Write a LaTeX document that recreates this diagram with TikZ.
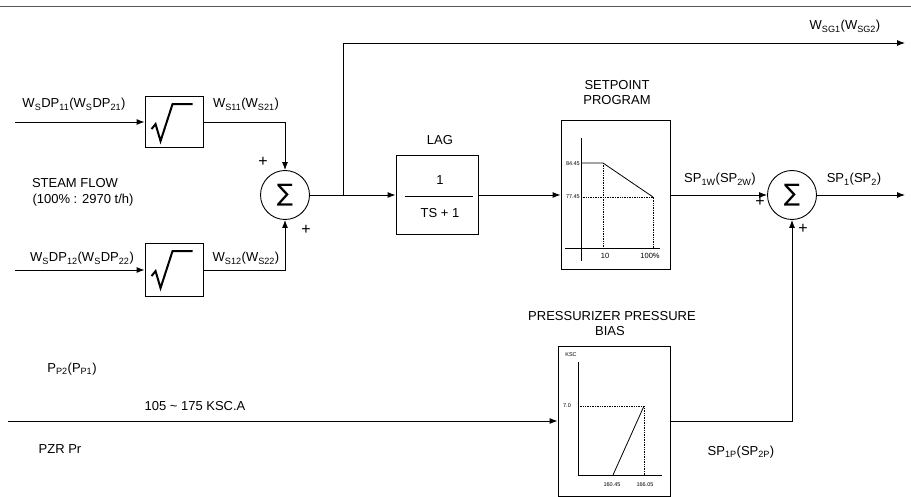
\documentclass[tikz,border=0pt]{standalone}
\usepackage{fontspec}
\setmainfont{Liberation Sans}
\newfontfamily\symfont{DejaVu Sans}
\usetikzlibrary{arrows.meta,calc}

\newcommand{\sbs}[1]{\textsubscript{#1}}

\tikzset{
  blk/.style={draw,line width=0.9pt,inner sep=0pt},
  sumnode/.style={draw,circle,line width=0.9pt,minimum size=49pt,inner sep=0pt,
    font=\symfont\fontsize{24}{24}\selectfont},
  wire/.style={line width=0.9pt},
  lbl/.style={anchor=base,inner sep=0pt},
  sgn/.style={inner sep=0pt,font=\fontsize{16}{16}\selectfont},
  tinylbl/.style={inner sep=0pt,font=\fontsize{5.5}{6}\selectfont},
  smalllbl/.style={inner sep=0pt,font=\fontsize{7.5}{8}\selectfont},
  guide/.style={densely dotted,line width=0.7pt},
}

\begin{document}
\begin{tikzpicture}[x=1pt,y=-1pt,>={Latex[length=8pt,width=6pt]},
    font=\fontsize{13}{15}\selectfont]
    \useasboundingbox (0,0) rectangle (911,497);

    % riga in alto
    \draw[line width=1pt,black!65] (0,7) -- (911,7);

    % blocchi
    \node[blk,minimum width=58pt,minimum height=51pt] (sq1) at (174,122) {};
    \node[blk,minimum width=58pt,minimum height=53pt] (sq2) at (174,270) {};
    \node[sumnode] (sum1) at (285,195) {∑};
    \node[blk,minimum width=82pt,minimum height=79pt] (lag) at (437,195) {};
    \node[blk,minimum width=109pt,minimum height=149pt] (spp) at (615.5,195) {};
    \node[sumnode] (sum2) at (792,195) {∑};
    \node[blk,minimum width=112pt,minimum height=150pt] (bias) at (614,421) {};

    % estremi liberi
    \coordinate (in1) at (15,122);
    \coordinate (in2) at (15,270);
    \coordinate (br) at (343,195);
    \coordinate (out1) at (905,43);
    \coordinate (out2) at (905,195);
    \coordinate (pin) at (8,421);

    % collegamenti
    \draw[wire,->] (in1) -- (sq1.west);
    \draw[wire,->] (in2) -- (sq2.west);
    \draw[wire,->] (sq1.east) -| (sum1.north);
    \draw[wire,->] (sq2.east) -| (sum1.south);
    \draw[wire,->] (sum1.east) -- (lag.west);
    \draw[wire,->] (br) |- (out1);
    \draw[wire,->] (lag.east) -- (spp.west);
    \draw[wire,->] (spp.east) -- (sum2.west);
    \draw[wire,->] (sum2.east) -- (out2);
    \draw[wire,->] (pin) -- (bias.west);
    \draw[wire,->] (bias.east) -| (sum2.south);

    % radici
    \foreach \b in {sq1,sq2}
        \draw[line width=2pt,line join=miter,shift={(\b.north west)}]
            (7,33) -- (11,28) -- (16,45) -- (28,8) -- (48,8);

    % lag
    \node[lbl] (laglbl) at (440,145) {LAG};
    \draw[line width=0.7pt] ($(lag.west)+(9,1)$) -- ($(lag.east)+(-5,1)$);
    \node[lbl] (lagnum) at (440,185) {1};
    \node[lbl] (lagden) at (440,218) {TS + 1};

    % setpoint program
    \node[lbl] (sptitle) at (617,90) {SETPOINT};
    \node[lbl] (sptitleb) at (617,105) {PROGRAM};
    \draw[line width=0.8pt] (581,138) -- (581,261);
    \draw[line width=0.6pt] (565,248) -- (660,248);
    \draw[line width=0.8pt] (581,163) -- (603,163) -- (653,197);
    \draw[guide] (603,163) -- (603,248);
    \draw[guide] (581,197) -- (653,197) -- (653,248);
    \node[tinylbl,anchor=east] (spa) at (580,164) {84.45};
    \node[tinylbl,anchor=east] (spb) at (580,197) {77.45};
    \node[smalllbl] (spc) at (605,256) {10};
    \node[smalllbl] (spd) at (650,256) {100\%};

    % pressurizer pressure bias
    \node[lbl] (btitle) at (612,320) {PRESSURIZER PRESSURE};
    \node[lbl] (btitleb) at (610,335) {BIAS};
    \draw[line width=0.8pt] (578,362) -- (578,475) -- (662,475);
    \draw[line width=0.8pt] (613,475) -- (644,406);
    \draw[guide] (578,406) -- (644,406) -- (644,475);
    \node[tinylbl] (bksc) at (571,355) {KSC};
    \node[tinylbl] (bseven) at (567,406) {7.0};
    \node[tinylbl] (blo) at (612,485) {160.45};
    \node[tinylbl] (bhi) at (645,485) {166.05};

    % etichette
    \node[lbl] (wdpa) at (74,108) {W\sbs{S}DP\sbs{11}(W\sbs{S}DP\sbs{21})};
    \node[lbl] (wsa) at (246,108) {W\sbs{S11}(W\sbs{S21})};
    \node[lbl] (wdpb) at (82,262) {W\sbs{S}DP\sbs{12}(W\sbs{S}DP\sbs{22})};
    \node[lbl] (wsb) at (246,262) {W\sbs{S12}(W\sbs{S22})};
    \node[lbl] (steam) at (75,188) {STEAM FLOW};
    \node[lbl] (steamb) at (83,204) {(100\% : 2970 t/h)};
    \node[lbl] (wsg) at (845,30) {W\sbs{SG1}(W\sbs{SG2})};
    \node[lbl] (spw) at (720,183) {SP\sbs{1W}(SP\sbs{2W})};
    \node[lbl] (spout) at (854,183) {SP\sbs{1}(SP\sbs{2})};
    \node[lbl] (pp) at (72,372) {P\sbs{P2}(P\sbs{P1})};
    \node[lbl] (range) at (195,410) {105 \textasciitilde{} 175 KSC.A};
    \node[lbl] (pzr) at (60,453) {PZR Pr};
    \node[lbl] (spp1) at (741,455) {SP\sbs{1P}(SP\sbs{2P})};

    % segni
    \node[sgn] (pa) at (263,162) {+};
    \node[sgn] (pb) at (306,230) {+};
    \node[sgn] (pc) at (760,202) {+};
    \node[sgn] (pd) at (803,229) {+};
\end{tikzpicture}
\end{document}
